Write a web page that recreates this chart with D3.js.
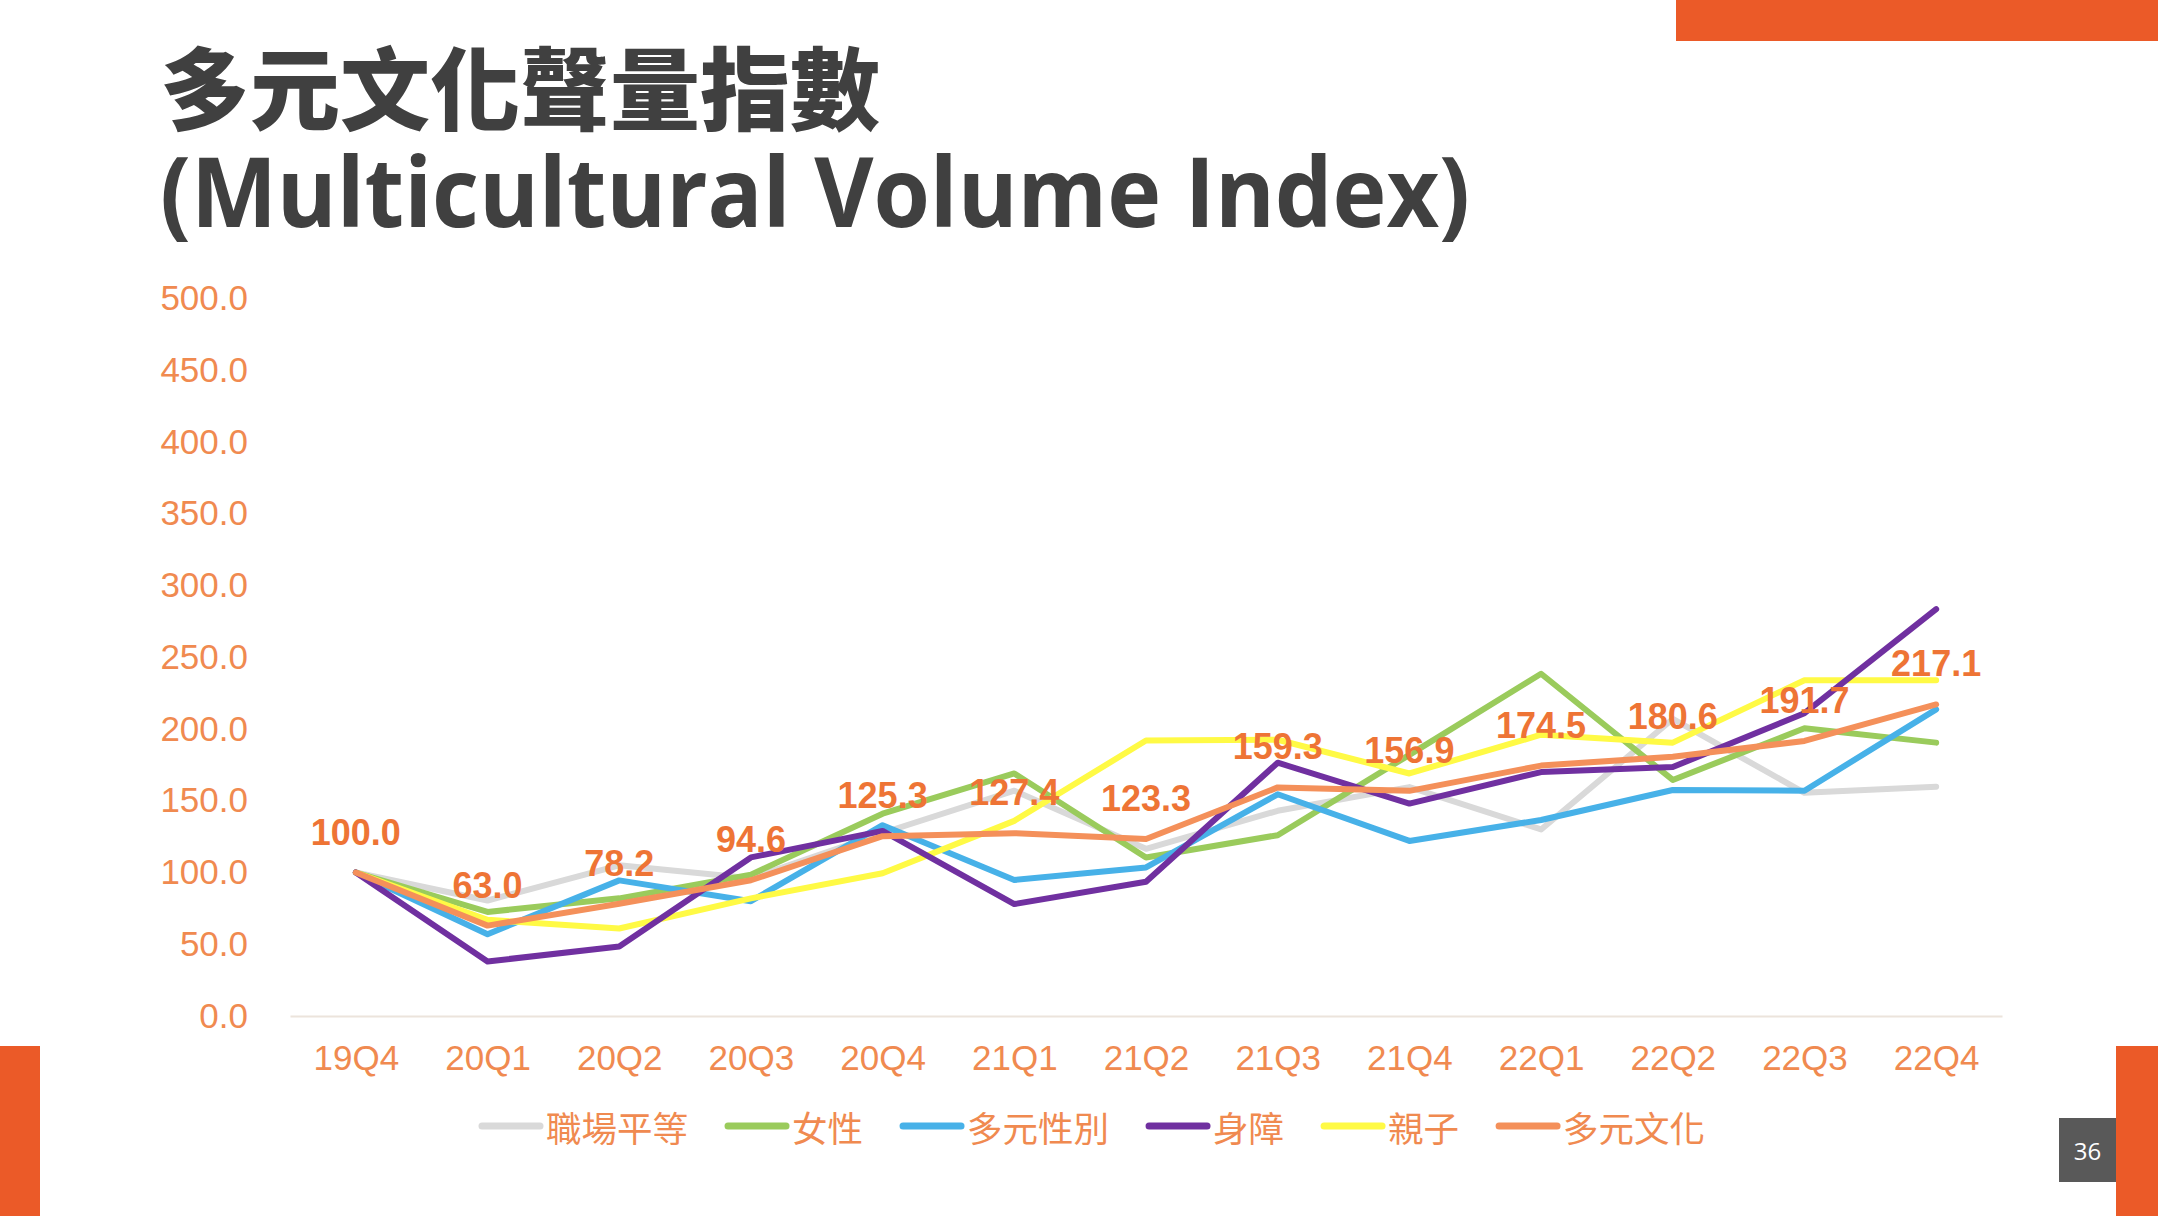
<!DOCTYPE html>
<html>
<head>
<meta charset="utf-8">
<script src="https://cdn.jsdelivr.net/npm/d3@7"></script>
<style>
  body { margin: 0; background: #fff; }
  svg { display: block; }
</style>
</head>
<body>
<div id="chart"></div>
<script>
// 四半期
var categories = ["19Q4","20Q1","20Q2","20Q3","20Q4","21Q1","21Q2","21Q3","21Q4","22Q1","22Q2","22Q3","22Q4"];

// 系列ごとの値
var seriesNames = ["職場平等","女性","多元性別","身障","親子","多元文化"];
var workplace   = [100, 80.5, 105, 96, 127.5, 157, 116.5, 143, 159.5, 130, 207, 155.5, 159.8];
var women       = [100, 72.5, 82, 98.5, 141, 169, 110.5, 126, 182, 238.5, 164.5, 200.5, 190.5];
var gender      = [100, 57, 94.5, 80, 133, 94.8, 103.5, 154.5, 122, 136.6, 157.5, 157, 213.7];
var disability  = [100, 38, 48.5, 110.5, 129, 78, 93.5, 176.5, 148, 170, 173.5, 211, 283.5];
var parenting   = [100, 67, 61, 82, 99.5, 136, 192, 192.5, 169, 196, 190.5, 234, 234];
var multiculture = [100, 63.0, 78.2, 94.6, 125.3, 127.4, 123.3, 159.3, 156.9, 174.5, 180.6, 191.7, 217.1];

var yTicks = [0, 50, 100, 150, 200, 250, 300, 350, 400, 450, 500];

var colors = ["#d9d9d9", "#9acb5c", "#47b1e8", "#7030a0", "#fffa45", "#f4905a"];
var seriesValues = [workplace, women, gender, disability, parenting, multiculture];
// 描画順（紫は黄色の上に重なる）
var drawOrder = [0, 1, 2, 4, 3, 5];

var W = 2158, H = 1216;
var svg = d3.select("#chart").append("svg").attr("width", W).attr("height", H);
svg.append("rect").attr("width", W).attr("height", H).attr("fill", "#fff");

// 装飾バー
var barColor = "#eb5a28";
svg.append("rect").attr("x", 1676).attr("y", 0).attr("width", W - 1676).attr("height", 41).attr("fill", barColor);
svg.append("rect").attr("x", 0).attr("y", 1046).attr("width", 40).attr("height", H - 1046).attr("fill", barColor);
svg.append("rect").attr("x", 2116).attr("y", 1046).attr("width", W - 2116).attr("height", H - 1046).attr("fill", barColor);

// ページ番号
svg.append("rect").attr("x", 2059).attr("y", 1118).attr("width", 57).attr("height", 64).attr("fill", "#595959");
svg.append("text").attr("x", 2087.5).attr("y", 1150).attr("text-anchor", "middle")
  .attr("dominant-baseline", "central")
  .style("font-family", "'Open Sans', sans-serif").style("font-size", "24px").attr("fill", "#fff")
  .text("36");

// タイトル
svg.append("text").attr("x", 160).attr("y", 123)
  .style("font-family", "'Noto Sans CJK TC', sans-serif").style("font-weight", 900)
  .style("font-size", "90px").attr("fill", "#404040")
  .text("多元文化聲量指數");

var t2 = svg.append("text").attr("x", 160).attr("y", 227)
  .style("font-family", "'Open Sans', sans-serif").style("font-weight", 700)
  .style("font-size", "96px").attr("fill", "#404040")
  .text("(Multicultural Volume Index)");
if (t2.node().getComputedTextLength() > 1310) {
  t2.attr("textLength", 1310).attr("lengthAdjust", "spacingAndGlyphs");
}

// スケール
var x = d3.scalePoint().domain(categories).range([290, 2002]).padding(0.5);
var y = d3.scaleLinear().domain([0, 500]).range([1016, 298.5]);

var axisColor = "#f08a50";
var labelFont = "'Liberation Sans', Arial, sans-serif";

// Y軸
var gy = svg.append("g").attr("transform", "translate(258,0)")
  .call(d3.axisLeft(y).tickValues(yTicks).tickSize(0).tickPadding(10).tickFormat(d3.format(".1f")));
gy.select(".domain").remove();
gy.selectAll("text").style("font-family", labelFont).style("font-size", "35px").attr("fill", axisColor);

// X軸
var gx = svg.append("g").attr("transform", "translate(0," + y(0) + ")")
  .call(d3.axisBottom(x).tickSize(0).tickPadding(29));
gx.select(".domain").attr("stroke", "#ece4dc").attr("stroke-width", 2);
gx.selectAll("text").style("font-family", labelFont).style("font-size", "35px").attr("fill", axisColor);

// 折れ線
var line = d3.line()
  .x(function(d, i){ return x(categories[i]); })
  .y(function(d){ return y(d); });

svg.append("g").selectAll("path")
  .data(drawOrder)
  .enter()
  .append("path")
  .attr("d", function(k){ return line(seriesValues[k]); })
  .attr("fill", "none")
  .attr("stroke", function(k){ return colors[k]; })
  .attr("stroke-width", 6)
  .attr("stroke-linejoin", "round")
  .attr("stroke-linecap", "round");

// データラベル（多元文化）
svg.append("g").selectAll("text")
  .data(multiculture)
  .enter()
  .append("text")
  .attr("x", function(d, i){ return x(categories[i]); })
  .attr("y", function(d){ return y(d) - 28; })
  .attr("text-anchor", "middle")
  .style("font-family", labelFont).style("font-weight", 700).style("font-size", "36px")
  .attr("fill", "#ee7435")
  .text(function(d){ return d3.format(".1f")(d); });

// 凡例
var legend = svg.append("g");
var lx = 479, ly = 1126;
seriesNames.forEach(function(name, k){
  legend.append("line")
    .attr("x1", lx + 3).attr("x2", lx + 61).attr("y1", ly).attr("y2", ly)
    .attr("stroke", colors[k]).attr("stroke-width", 7).attr("stroke-linecap", "round");
  var t = legend.append("text")
    .attr("x", lx + 67).attr("y", ly).attr("dominant-baseline", "central")
    .style("font-family", "'Noto Sans CJK TC', sans-serif").style("font-size", "35.5px")
    .attr("fill", axisColor)
    .text(name);
  lx = lx + 67 + t.node().getComputedTextLength() + 37;
});
</script>
</body>
</html>
